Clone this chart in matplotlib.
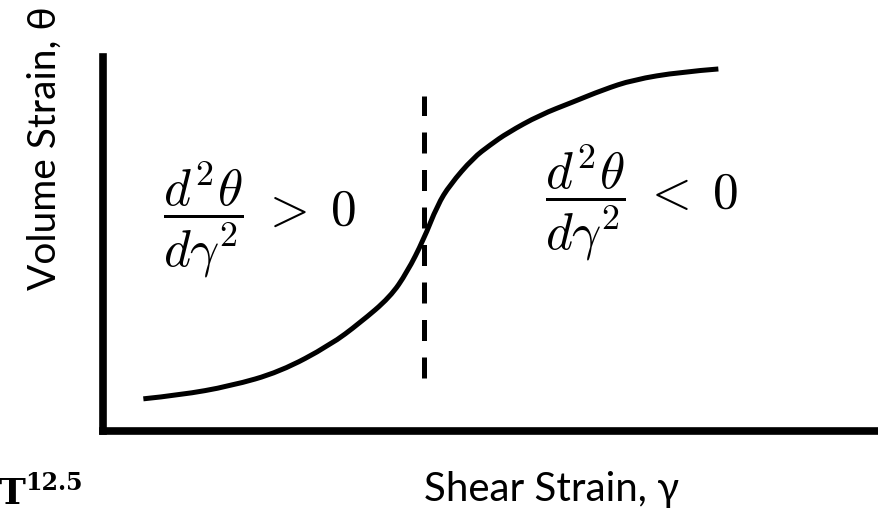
import matplotlib.pyplot as plt
from matplotlib.path import Path
from matplotlib.patches import PathPatch

plt.rcParams['mathtext.fontset'] = 'cm'

# S-shaped volume strain vs shear strain response (arbitrary units, 0-100)
shear = [5.2, 9.9, 16.4, 22.8, 29.3, 33.1, 37.0, 39.2, 41.3, 43.1,
         44.7, 47.7, 49.9, 52.1, 56.3, 60.6, 64.4, 68.3, 74.4, 79.3]
volume = [8.6, 9.6, 12.0, 15.8, 23.0, 28.9, 35.8, 42.5, 51.1, 60.4,
          65.8, 73.0, 76.5, 79.7, 84.5, 88.0, 91.2, 93.9, 96.0, 96.8]

# inflection point marker
inflection_x = 41.4
inflection_span = (14.2, 89.6)

label_font = 'Lato'


def smooth_path(xs, ys):
    # quadratic segments through the midpoints, using the samples as controls
    pts = list(zip(xs, ys))
    verts = [pts[0]]
    codes = [Path.MOVETO]
    for i in range(1, len(pts) - 1):
        mid = ((pts[i][0] + pts[i + 1][0]) / 2, (pts[i][1] + pts[i + 1][1]) / 2)
        if i == len(pts) - 2:
            mid = pts[-1]
        verts += [pts[i], mid]
        codes += [Path.CURVE3, Path.CURVE3]
    return Path(verts, codes)


fig = plt.figure(figsize=(8.79, 5.12), dpi=100)
ax = fig.add_axes([103 / 879, 81 / 512, 776 / 879, 374 / 512])

ax.add_patch(PathPatch(smooth_path(shear, volume), facecolor='none',
                       edgecolor='black', lw=3.6, capstyle='butt'))
ax.vlines(inflection_x, *inflection_span, colors='black', lw=3.6,
          linestyles=(0, (4.2, 3.3)))

ax.text(7.7, 56.5, r'$\dfrac{d^2\theta}{d\gamma^2}\;>\;0$', fontsize=37,
        ha='left', va='center')
ax.text(57.0, 60.9, r'$\dfrac{d^2\theta}{d\gamma^2}\;<\;0$', fontsize=37,
        ha='left', va='center')

ax.set_xlim(0, 100)
ax.set_ylim(0, 100)
for side in ('top', 'right'):
    ax.spines[side].set_visible(False)
for side in ('left', 'bottom'):
    ax.spines[side].set_linewidth(5.5)
    ax.spines[side].set_capstyle('projecting')
ax.set_xticks([])
ax.set_yticks([])

fig.text(552 / 879, 1 - 490 / 512, 'Shear Strain, γ', family=label_font,
         fontsize=29, ha='center', va='center')
fig.text(45 / 879, 1 - 148 / 512, 'Volume Strain, θ', family=label_font,
         fontsize=28, ha='center', va='center', rotation=90)

# slide number in the corner
fig.text(-1 / 879, 1 / 512, 'T', family='DejaVu Serif', weight='bold',
         fontsize=26, ha='left', va='bottom')
fig.text(25 / 879, 1 - 483 / 512, '12.5', family='DejaVu Serif',
         weight='heavy', fontsize=17, ha='left', va='center')

fig.savefig('out.png', dpi=100, facecolor='white')
